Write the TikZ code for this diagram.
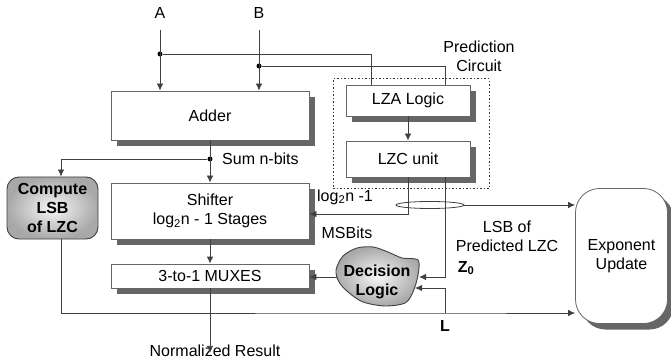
\documentclass[tikz,border=0pt]{standalone}
\usepackage{fontspec}
\setmainfont{Liberation Sans}
\usepackage{tikz}
\usetikzlibrary{arrows.meta,shapes,shadows}

\begin{document}
\begin{tikzpicture}[x=1pt, y=-1pt, >={Latex[length=7pt,width=6.5pt]},
                    every node/.style={font=\fontsize{16}{19}\selectfont, align=center, inner sep=0pt},
                    boldtxt/.style={font=\fontsize{16}{19}\selectfont\bfseries},
                    wire/.style={draw=black!75, line width=0.8pt},
                    blk/.style={draw=black!60, line width=0.8pt, fill=white,
                                drop shadow={shadow xshift=6pt, shadow yshift=-6pt, fill=black!60, opacity=1}},
                    gshade/.style={draw=black!75, line width=0.9pt, inner color=black!3, outer color=black!34},
                    jdot/.style={circle, fill=black, minimum size=5pt, inner sep=0pt}]
                    \useasboundingbox (0,0) rectangle (671,363);
                    \node[draw=black!80, line width=1pt, dash pattern=on 1.5pt off 2pt, minimum width=156pt,
                          minimum height=110pt] (pred) at (411,134) {};
                    \node (predlbl) at (479,56.5) {Prediction\\Circuit};
                    \node (a) at (160,13) {A};
                    \node (b) at (259,13) {B};
                    \node[blk, minimum width=198pt, minimum height=49pt] (adder) at (210,115.5) {Adder};
                    \node[blk, minimum width=198pt, minimum height=56pt] (shifter) at (210,211)
                          {Shifter\\log\textsubscript{2}n - 1 Stages};
                    \node[blk, minimum width=198pt, minimum height=24pt] (mux) at (210,276) {3-to-1 MUXES};
                    \node[blk, minimum width=124pt, minimum height=31pt] (lza) at (408,100.5) {LZA Logic};
                    \node[blk, minimum width=124pt, minimum height=36pt] (lzc) at (408,159) {LZC unit};
                    \node[gshade, boldtxt, rounded corners=12pt, minimum width=91pt, minimum height=62pt]
                          (lsb) at (52.5,208) {Compute\\LSB\\of LZC};
                    \node[blk, rounded corners=24pt, minimum width=92pt, minimum height=135pt] (exp)
                          at (621.5,256) {Exponent\\Update};
                    \draw[gshade] plot[smooth cycle] coordinates {(336,270) (343,256) (357,248) (373,247)
                          (388,252) (402,258) (418,260) (418,275) (413,292) (405,303) (385,306) (363,302)
                          (348,292) (339,282)};
                    \node[boldtxt] (dec) at (377,282) {Decision\\Logic};
                    \coordinate (din1) at (419,277);
                    \coordinate (din2) at (415,288);
                    \coordinate (dout) at (337,277);
                    \node[jdot] (da) at (160,54) {};
                    \node[jdot] (db) at (259,66) {};
                    \node[jdot] (ds) at (210,159) {};
                    \node[anchor=west] (sumlbl) at (222,159) {Sum n-bits};
                    \node (loglbl) at (345,197) {log\textsubscript{2}n -1};
                    \node (msb) at (347,233) {MSBits};
                    \node (lsbtxt) at (507,236) {LSB of\\Predicted LZC};
                    \node[boldtxt] (z0) at (466,268) {Z\textsubscript{0}};
                    \node[boldtxt] (llbl) at (445,326) {L};
                    \node (res) at (215,351) {Normalized Result};
                    \node[draw=black!75, line width=0.8pt, ellipse, minimum width=68pt, minimum height=7pt]
                          (bus) at (430,205) {};
                    \coordinate (lj) at (445,313);
                    \draw[wire,->] ([yshift=-11pt]a.south) -- (a.south |- adder.north);
                    \draw[wire,->] ([yshift=-11pt]b.south) -- (b.south |- adder.north);
                    \draw[wire] (da) -| ([xshift=-37pt]lza.north);
                    \draw[wire] (db) -| ([xshift=37pt]lza.north);
                    \draw[wire,->] (lza) -- (lzc);
                    \draw[wire,->] (adder) -- (shifter);
                    \draw[wire,->] (ds) -| ([xshift=8.5pt]lsb.north);
                    \draw[wire,->] (shifter) -- (mux);
                    \draw[wire,->] (mux.south) -- ([yshift=-8pt]mux.south |- res.north);
                    \draw[wire,->] (lzc.south) |- ([yshift=-3pt]shifter.east);
                    \draw[wire,->] ([xshift=37pt]lzc.south) |- (din1);
                    \draw[wire,->] (dout) -- (dout -| mux.east);
                    \draw[wire,->] (bus.east) -- (bus.east -| exp.west);
                    \draw[wire,->] ([xshift=8.5pt]lsb.south) |- (lj) -- (lj -| exp.west);
                    \draw[wire,->] (lj) |- (din2);
\end{tikzpicture}
\end{document}
